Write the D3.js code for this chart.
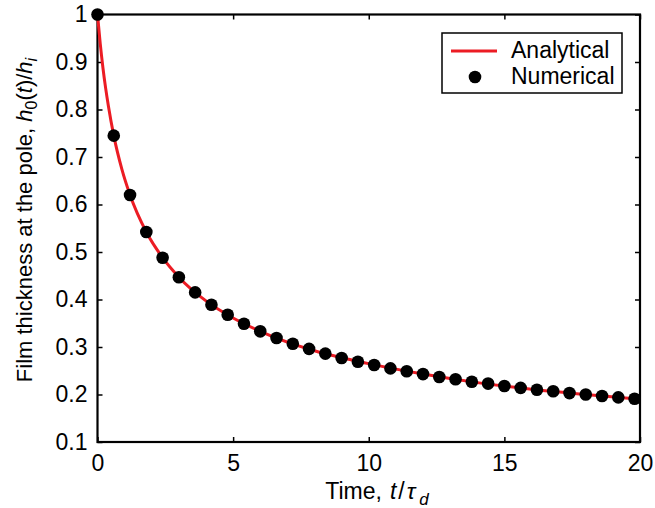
<!DOCTYPE html>
<html>
<head>
<meta charset="utf-8">
<script src="https://cdn.jsdelivr.net/npm/d3@7"></script>
<style>
  body { margin: 0; background: #fff; }
  svg text { font-family: "Liberation Sans", Arial, Helvetica, sans-serif; fill: #000; }
</style>
</head>
<body>
<svg id="chart" width="655" height="508"></svg>
<script>
// values
const numT = [0, 0.6, 1.2, 1.8, 2.4, 3.0, 3.6, 4.2, 4.8, 5.4, 6.0, 6.6, 7.2, 7.8, 8.4, 9.0,
    9.6, 10.2, 10.8, 11.4, 12.0, 12.6, 13.2, 13.8, 14.4, 15.0, 15.6, 16.2, 16.8, 17.4,
    18.0, 18.6, 19.2, 19.8];
const numH = [1.000, 0.745, 0.620, 0.542, 0.488, 0.447, 0.415, 0.389, 0.368, 0.349, 0.333,
    0.319, 0.307, 0.296, 0.286, 0.277, 0.269, 0.262, 0.255, 0.249, 0.243, 0.237, 0.232,
    0.227, 0.223, 0.218, 0.214, 0.210, 0.207, 0.203, 0.200, 0.197, 0.194, 0.191];
const anaT = [0, 0.1, 0.2, 0.3, 0.4, 0.6, 0.9, 1.2, 1.8, 2.4, 3.0, 4.0, 5.0, 6.0, 8.0,
    10.0, 12.0, 14.0, 16.0, 18.0, 20.0];
const anaH = [1.000, 0.939, 0.888, 0.845, 0.808, 0.745, 0.674, 0.620, 0.542, 0.488, 0.447,
    0.397, 0.361, 0.333, 0.292, 0.265, 0.243, 0.225, 0.211, 0.200, 0.190];
const xTicks = [0, 5, 10, 15, 20];
const yTicks = [0.1, 0.2, 0.3, 0.4, 0.5, 0.6, 0.7, 0.8, 0.9, 1];

const svg = d3.select("#chart");
const plotL = 97.5, plotR = 640, plotT = 14.5, plotB = 442;
const fs = 23;
const font = "Liberation Sans, Arial, sans-serif";

const x = d3.scaleLinear().domain([0, 20]).range([plotL, plotR]);
const y = d3.scaleLinear().domain([0.1, 1]).range([plotB, plotT]);

// axes, ticks inward on all four sides
function styleAxis(g) {
    g.select(".domain").remove();
    g.selectAll(".tick line").attr("stroke", "#000").attr("stroke-width", 1.5);
    g.selectAll("text").attr("font-size", fs).attr("font-family", font);
}
svg.append("g").attr("transform", `translate(0,${plotB})`)
    .call(d3.axisBottom(x).tickValues(xTicks).tickSizeInner(-5).tickSizeOuter(0).tickPadding(13).tickFormat(d3.format("d")))
    .call(styleAxis);
svg.append("g").attr("transform", `translate(0,${plotT})`)
    .call(d3.axisTop(x).tickValues(xTicks).tickSizeInner(-5).tickSizeOuter(0).tickFormat(""))
    .call(styleAxis);
svg.append("g").attr("transform", `translate(${plotL},0)`)
    .call(d3.axisLeft(y).tickValues(yTicks).tickSizeInner(-5).tickSizeOuter(0).tickPadding(10).tickFormat(d => d === 1 ? "1" : d3.format(".1f")(d)))
    .call(styleAxis);
svg.append("g").attr("transform", `translate(${plotR},0)`)
    .call(d3.axisRight(y).tickValues(yTicks).tickSizeInner(-5).tickSizeOuter(0).tickFormat(""))
    .call(styleAxis);

// frame
svg.append("rect")
    .attr("x", plotL).attr("y", plotT)
    .attr("width", plotR - plotL).attr("height", plotB - plotT)
    .attr("fill", "none").attr("stroke", "#000").attr("stroke-width", 2.2);

// analytical curve
const line = d3.line()
    .x((d, i) => x(anaT[i]))
    .y(d => y(d))
    .curve(d3.curveMonotoneX);
svg.append("path")
    .datum(anaH)
    .attr("d", line)
    .attr("fill", "none")
    .attr("stroke", "#ec1c24")
    .attr("stroke-width", 3);

// numerical points
svg.selectAll(".pt").data(numH).enter().append("circle")
    .attr("class", "pt")
    .attr("cx", (d, i) => x(numT[i]))
    .attr("cy", d => y(d))
    .attr("r", 6.3)
    .attr("fill", "#000");

// axis labels
const xl = svg.append("text")
    .attr("x", 377).attr("y", 499)
    .attr("text-anchor", "middle").attr("font-size", 23);
xl.append("tspan").text("Time,");
xl.append("tspan").attr("font-style", "italic").attr("dx", 8).text("t");
xl.append("tspan").attr("dx", 2).text("/");
xl.append("tspan").attr("font-style", "italic").attr("dx", 2).text("\u03c4");
xl.append("tspan").attr("font-style", "italic").attr("font-size", 17).attr("dx", 4).attr("dy", 6).text("d");

const yl = svg.append("text")
    .attr("transform", `translate(32,220) rotate(-90)`)
    .attr("text-anchor", "middle").attr("font-size", 22);
yl.append("tspan").text("Film thickness at the pole, ");
yl.append("tspan").attr("font-style", "italic").text("h");
yl.append("tspan").attr("font-size", 16).attr("dy", 5).text("0");
yl.append("tspan").attr("dy", -5).text("(");
yl.append("tspan").attr("font-style", "italic").text("t");
yl.append("tspan").text(")/");
yl.append("tspan").attr("font-style", "italic").text("h");
yl.append("tspan").attr("font-style", "italic").attr("font-size", 16).attr("dy", 5).text("i");

// legend
const lg = svg.append("g");
lg.append("rect")
    .attr("x", 442).attr("y", 33).attr("width", 180).attr("height", 60)
    .attr("fill", "#fff").attr("stroke", "#000").attr("stroke-width", 1.5);
lg.append("line")
    .attr("x1", 451).attr("x2", 497).attr("y1", 51).attr("y2", 51)
    .attr("stroke", "#ec1c24").attr("stroke-width", 3);
lg.append("circle").attr("cx", 475).attr("cy", 77).attr("r", 6.3).attr("fill", "#000");
lg.append("text").attr("x", 511).attr("y", 58).attr("font-size", 23).text("Analytical");
lg.append("text").attr("x", 511).attr("y", 84).attr("font-size", 23).text("Numerical");
</script>
</body>
</html>
